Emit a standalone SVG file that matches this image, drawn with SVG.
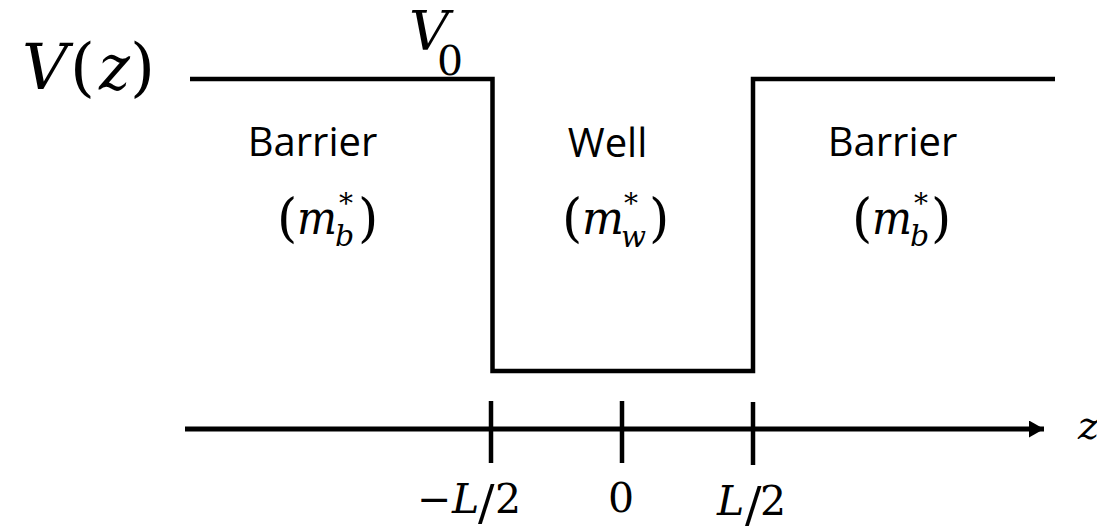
<svg xmlns="http://www.w3.org/2000/svg" width="1097" height="527" viewBox="0 0 1097 527">
<style>
.ln{fill:none;stroke:#000;stroke-width:4.5;stroke-linejoin:miter;stroke-linecap:butt}
.sans{font-family:'Open Sans','Liberation Sans',sans-serif;font-size:40px;fill:#000}
.m{font-family:'DejaVu Serif',serif;fill:#000}
.i{font-style:italic}
</style>
<defs>
<marker id="arr" markerUnits="userSpaceOnUse" markerWidth="16" markerHeight="17" refX="15" refY="8.5" orient="auto">
<path d="M0,0 L15,8.5 L0,17 Z" fill="#000"/>
</marker>
</defs>
<rect width="1097" height="527" fill="#fff"/>
<g id="potential">
<polyline class="ln" points="190,79 492.5,79 492.5,371 753,371 753,79 1055,79"/>
</g>
<g id="axis">
<line class="ln" x1="185" y1="429" x2="1044" y2="429" marker-end="url(#arr)" style="stroke-width:5"/>
<line class="ln" x1="491" y1="401" x2="491" y2="463"/>
<line class="ln" x1="622" y1="401" x2="622" y2="463"/>
<line class="ln" x1="753" y1="402" x2="753" y2="465"/>
</g>
<g id="label-Vz">
<text class="m i" x="22" y="89" font-size="64" textLength="46" lengthAdjust="spacingAndGlyphs">V</text>
<text class="m" x="70" y="89" font-size="64">(</text>
<text class="m i" x="99" y="89" font-size="64" textLength="31" lengthAdjust="spacingAndGlyphs">z</text>
<text class="m" x="130" y="89" font-size="64">)</text>
</g>
<g id="label-V0">
<text class="m i" x="409" y="50" font-size="55" textLength="40" lengthAdjust="spacingAndGlyphs">V</text>
<text class="m" x="437" y="75" font-size="41">0</text>
</g>
<g id="barrier-left">
<text class="sans" x="312.5" y="156" text-anchor="middle">Barrier</text>
<text class="m" x="277" y="236" font-size="52">(</text>
<text class="m i" x="297" y="234" font-size="46" textLength="40" lengthAdjust="spacingAndGlyphs">m</text>
<text class="m i" x="335" y="246" font-size="30">b</text>
<text class="m" x="339" y="213" font-size="28">*</text>
<text class="m" x="358" y="236" font-size="52">)</text>
</g>
<g id="well">
<text class="sans" x="607.5" y="157" text-anchor="middle">Well</text>
<text class="m" x="562" y="236" font-size="52">(</text>
<text class="m i" x="582" y="234" font-size="46" textLength="42" lengthAdjust="spacingAndGlyphs">m</text>
<text class="m i" x="621" y="247" font-size="30" textLength="25" lengthAdjust="spacingAndGlyphs">w</text>
<text class="m" x="624" y="213" font-size="28">*</text>
<text class="m" x="649" y="236" font-size="52">)</text>
</g>
<g id="barrier-right">
<text class="sans" x="892.5" y="156" text-anchor="middle">Barrier</text>
<text class="m" x="852" y="236" font-size="52">(</text>
<text class="m i" x="872" y="234" font-size="46" textLength="40" lengthAdjust="spacingAndGlyphs">m</text>
<text class="m i" x="910" y="246" font-size="30">b</text>
<text class="m" x="914" y="213" font-size="28">*</text>
<text class="m" x="931" y="236" font-size="52">)</text>
</g>
<g id="tick-labels">
<text class="m" x="417" y="513" font-size="41">−</text>
<text class="m i" x="452" y="513" font-size="41">L</text>
<text class="m" x="478" y="520" font-size="49">/</text>
<text class="m" x="495" y="513" font-size="41">2</text>
<text class="m" x="608" y="512" font-size="41">0</text>
<text class="m i" x="717" y="515" font-size="41">L</text>
<text class="m" x="745" y="522" font-size="49">/</text>
<text class="m" x="760" y="515" font-size="41">2</text>
</g>
<g id="label-z">
<text class="m i" x="1078" y="439" font-size="40">z</text>
</g>
</svg>
